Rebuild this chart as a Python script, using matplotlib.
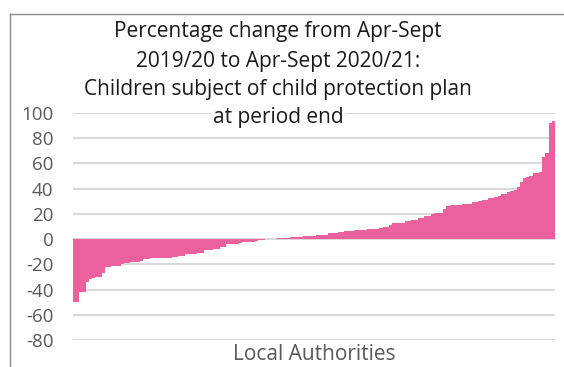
import numpy as np
import matplotlib
matplotlib.use("Agg")
import matplotlib.pyplot as plt
from matplotlib.lines import Line2D

# percentage change per local authority, sorted ascending
pct_change = [
    -50, -50, -42, -42, -34, -32, -31, -30, -30, -27,
    -22, -22, -21, -21, -21, -20, -19, -19, -18, -18,
    -18, -17, -16, -16, -15, -15, -15, -15, -15, -15,
    -15, -14, -14, -13, -13, -12, -12, -12, -12, -11,
    -11, -9, -9, -9, -8, -8, -6, -6, -4, -4,
    -3.5, -3.5, -3, -2.5, -2.5, -2.5, -2, -1.5, -1, -0.5,
    0, 0, 0.3, 0.4, 0.5, 0.6, 0.8, 1.2, 1.3, 1.4,
    1.5, 1.6, 2.3, 2.5, 2.6, 2.8, 3.2, 3.3, 3.4, 3.6,
    4.8, 5, 5.1, 5.3, 6, 6.2, 6.3, 6.8, 7, 7.1,
    7.3, 7.6, 7.8, 8, 8.1, 8.3, 8.5, 9.3, 9.5, 11.4,
    12.5, 12.7, 12.8, 13, 14, 14.2, 15.2, 15.4, 16.5, 16.8,
    18.2, 18.6, 20, 20.5, 20.8, 21, 24, 26, 27, 27,
    27.2, 27.4, 27.8, 28, 28.2, 29.5, 29.7, 30, 31, 31.2,
    32.3, 32.5, 33.6, 34, 35.5, 36, 37.6, 38, 39, 41.5,
    45.5, 48.2, 49.5, 50, 52.5, 52.6, 53, 65, 68, 91.8,
    93.6,
]
y_ticks = [-80, -60, -40, -20, 0, 20, 40, 60, 80, 100]
title_lines = [
    "Percentage change from Apr-Sept",
    "2019/20 to Apr-Sept 2020/21:",
    "Children subject of child protection plan",
    "at period end",
]
x_title = "Local Authorities"

W, H = 564, 367
fig = plt.figure(figsize=(W / 100, H / 100), dpi=100)
font = "Open Sans"
grey = "#595959"

ax = fig.add_axes([73 / W, 1 - 340 / H, (555 - 73) / W, (340 - 113) / H])
x = np.arange(len(pct_change))
ax.bar(x, pct_change, width=1.0, color="#EA619D", linewidth=0, zorder=2)
ax.set_xlim(-0.5, len(pct_change) - 0.5)
ax.set_ylim(-80, 100)
ax.set_yticks(y_ticks)
ax.set_yticklabels([str(t) for t in y_ticks], fontfamily=font, fontsize=13.5, color=grey)
ax.tick_params(axis="y", length=0, pad=14)
ax.set_xticks([])
ax.grid(axis="y", color="#d9d9d9", linewidth=1.5, zorder=0)
for s in ax.spines.values():
    s.set_visible(False)

# title, centred over the chart
ys = [32, 61, 90, 118]
for i, (line, yy) in enumerate(zip(title_lines, ys)):
    kw = {}
    if i == 3:
        kw["bbox"] = dict(facecolor="white", edgecolor="none", pad=1)
    fig.text(278 / W, 1 - yy / H, line, ha="center", va="center",
             fontfamily=font, fontsize=15, color="#1a1a1a", zorder=5, **kw)

fig.text(314 / W, 1 - 355 / H, x_title, ha="center", va="center",
         fontfamily=font, fontsize=15, color=grey)

# outer chart border (top and left edges visible)
fig.add_artist(Line2D([10 / W, 10 / W], [0, 1 - 14 / H], color="#8c8c8c", linewidth=1))
fig.add_artist(Line2D([10 / W, 1], [1 - 14 / H, 1 - 14 / H], color="#8c8c8c", linewidth=1))

fig.savefig("out.png", dpi=100)
